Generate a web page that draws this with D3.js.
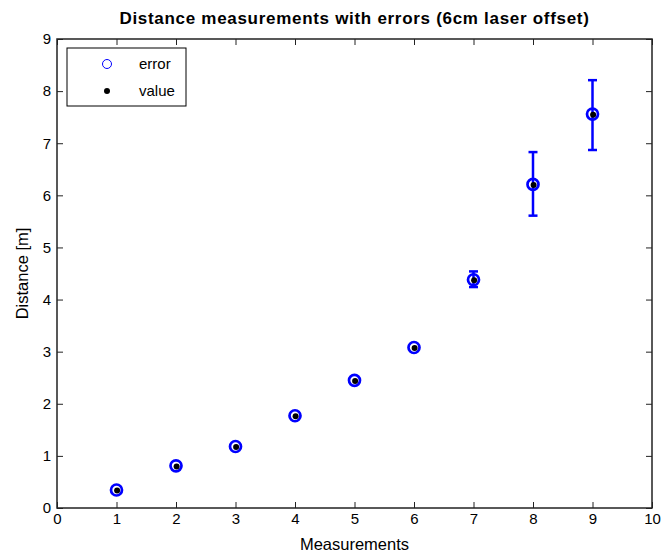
<!DOCTYPE html>
<html>
<head>
<meta charset="utf-8">
<script src="https://cdn.jsdelivr.net/npm/d3@7"></script>
<style>
  body { margin: 0; background: #fff; }
  text { font-family: "Liberation Sans", Arial, sans-serif; }
</style>
</head>
<body>
<div id="container"></div>
<script>
// Data
const measurements = [1, 2, 3, 4, 5, 6, 7, 8, 9];
const distances = [0.345, 0.81, 1.18, 1.77, 2.45, 3.08, 4.38, 6.21, 7.56];
const errLower = [0.345, 0.81, 1.18, 1.77, 2.45, 3.08, 4.24, 5.61, 6.87];
const errUpper = [0.345, 0.81, 1.18, 1.77, 2.45, 3.08, 4.54, 6.83, 8.21];
const xTicks = [0, 1, 2, 3, 4, 5, 6, 7, 8, 9, 10];
const yTicks = [0, 1, 2, 3, 4, 5, 6, 7, 8, 9];

// Chart dimensions
const width = 663;
const height = 553;
const marginTop = 39;
const marginRight = 11;
const marginBottom = 45;
const marginLeft = 57;

const data = measurements.map((m, i) => ({
    x: m, y: distances[i], lo: errLower[i], hi: errUpper[i]
}));

const x = d3.scaleLinear()
    .domain([0, 10])
    .range([marginLeft, width - marginRight]);

const y = d3.scaleLinear()
    .domain([0, 9])
    .range([height - marginBottom, marginTop]);

const svg = d3.select("#container").append("svg")
    .attr("width", width)
    .attr("height", height)
    .attr("viewBox", [0, 0, width, height]);

const tickLen = 6;
const tickFont = 15;

// Bottom axis (ticks inside, MATLAB style)
svg.append("g")
    .attr("transform", `translate(0,${height - marginBottom})`)
    .call(d3.axisBottom(x).tickValues(xTicks).tickSizeInner(-tickLen).tickSizeOuter(0).tickPadding(5))
    .call(g => g.select(".domain").remove())
    .call(g => g.selectAll(".tick text").attr("font-size", tickFont).attr("fill", "#000"))
    .call(g => g.selectAll(".tick line").attr("stroke", "#222"));

// Top ticks
svg.append("g")
    .attr("transform", `translate(0,${marginTop})`)
    .call(d3.axisTop(x).tickValues(xTicks).tickSizeInner(-tickLen).tickSizeOuter(0).tickFormat(""))
    .call(g => g.select(".domain").remove())
    .call(g => g.selectAll(".tick line").attr("stroke", "#222"));

// Left axis
svg.append("g")
    .attr("transform", `translate(${marginLeft},0)`)
    .call(d3.axisLeft(y).tickValues(yTicks).tickSizeInner(-tickLen).tickSizeOuter(0).tickPadding(6))
    .call(g => g.select(".domain").remove())
    .call(g => g.selectAll(".tick text").attr("font-size", tickFont).attr("fill", "#000"))
    .call(g => g.selectAll(".tick line").attr("stroke", "#222"));

// Right ticks
svg.append("g")
    .attr("transform", `translate(${width - marginRight},0)`)
    .call(d3.axisRight(y).tickValues(yTicks).tickSizeInner(-tickLen).tickSizeOuter(0).tickFormat(""))
    .call(g => g.select(".domain").remove())
    .call(g => g.selectAll(".tick line").attr("stroke", "#222"));

// Box around plot
svg.append("rect")
    .attr("x", x(0))
    .attr("y", y(9))
    .attr("width", x(10) - x(0))
    .attr("height", y(0) - y(9))
    .attr("fill", "none")
    .attr("stroke", "#222")
    .attr("stroke-width", 1.5);

// Error bars
const capHalf = 4.5;
const bars = svg.append("g")
    .attr("stroke", "#0000ff")
    .attr("stroke-width", 2.5)
    .attr("fill", "none");

data.filter(d => d.hi > d.lo).forEach(d => {
    bars.append("line")
        .attr("x1", x(d.x)).attr("x2", x(d.x))
        .attr("y1", y(d.lo)).attr("y2", y(d.hi));
    bars.append("line")
        .attr("x1", x(d.x) - capHalf).attr("x2", x(d.x) + capHalf)
        .attr("y1", y(d.lo)).attr("y2", y(d.lo));
    bars.append("line")
        .attr("x1", x(d.x) - capHalf).attr("x2", x(d.x) + capHalf)
        .attr("y1", y(d.hi)).attr("y2", y(d.hi));
});

// Blue error circles
svg.append("g")
    .selectAll("circle")
    .data(data)
    .join("circle")
    .attr("cx", d => x(d.x))
    .attr("cy", d => y(d.y))
    .attr("r", 5.5)
    .attr("fill", "none")
    .attr("stroke", "#0000ff")
    .attr("stroke-width", 2.7);

// Black value dots
svg.append("g")
    .selectAll("circle")
    .data(data)
    .join("circle")
    .attr("cx", d => x(d.x) + 0.6)
    .attr("cy", d => y(d.y) + 0.6)
    .attr("r", 3)
    .attr("fill", "#000");

// Title
svg.append("text")
    .attr("x", (x(0) + x(10)) / 2)
    .attr("y", 24)
    .attr("text-anchor", "middle")
    .attr("font-size", 17)
    .attr("font-weight", "bold")
    .attr("letter-spacing", 0.7)
    .text("Distance measurements with errors (6cm laser offset)");

// Axis labels
svg.append("text")
    .attr("x", (x(0) + x(10)) / 2)
    .attr("y", 550)
    .attr("text-anchor", "middle")
    .attr("font-size", 16.5)
    .text("Measurements");

svg.append("text")
    .attr("transform", `translate(28,${(y(0) + y(9)) / 2}) rotate(-90)`)
    .attr("text-anchor", "middle")
    .attr("font-size", 16.5)
    .text("Distance [m]");

// Legend
const legend = svg.append("g");
legend.append("rect")
    .attr("x", 67).attr("y", 48)
    .attr("width", 119).attr("height", 58)
    .attr("fill", "#fff")
    .attr("stroke", "#000")
    .attr("stroke-width", 1);

legend.append("circle")
    .attr("cx", 107).attr("cy", 64).attr("r", 4.5)
    .attr("fill", "none").attr("stroke", "#0000ff").attr("stroke-width", 1);
legend.append("text")
    .attr("x", 139).attr("y", 64).attr("dy", "0.35em")
    .attr("font-size", 15)
    .text("error");

legend.append("circle")
    .attr("cx", 107).attr("cy", 91).attr("r", 3)
    .attr("fill", "#000");
legend.append("text")
    .attr("x", 139).attr("y", 91).attr("dy", "0.35em")
    .attr("font-size", 15)
    .text("value");
</script>
</body>
</html>
